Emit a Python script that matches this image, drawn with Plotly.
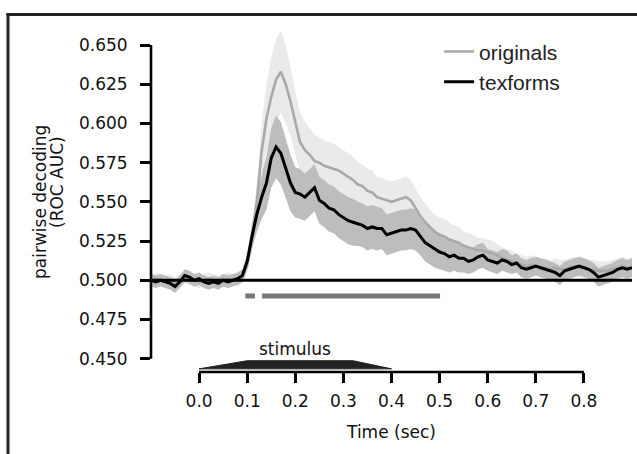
import plotly.graph_objects as go

# ---------------- data ----------------
time_s = [round(-0.10 + 0.01 * i, 2) for i in range(101)]

originals_mean = [
    0.500, 0.501, 0.500, 0.499, 0.500, 0.498, 0.500, 0.502, 0.501, 0.500,
    0.499, 0.500, 0.501, 0.500, 0.499, 0.500, 0.501, 0.500, 0.500, 0.502,
    0.510, 0.527, 0.550, 0.582, 0.603, 0.617, 0.628, 0.633, 0.625, 0.614,
    0.600, 0.588, 0.583, 0.580, 0.576, 0.575, 0.573, 0.572, 0.571, 0.570,
    0.568, 0.566, 0.564, 0.561, 0.560, 0.557, 0.556, 0.553, 0.552, 0.551,
    0.550, 0.551, 0.552, 0.553, 0.551, 0.546, 0.541, 0.537, 0.534, 0.531,
    0.529, 0.528, 0.526, 0.525, 0.524, 0.522, 0.521, 0.520, 0.519, 0.519,
    0.518, 0.517, 0.516, 0.514, 0.513, 0.512, 0.511, 0.510, 0.509, 0.510,
    0.509, 0.508, 0.508, 0.507, 0.508, 0.507, 0.507, 0.508, 0.509, 0.508,
    0.508, 0.507, 0.507, 0.506, 0.506, 0.506, 0.507, 0.508, 0.509, 0.508,
    0.508,
]
originals_sem = [
    0.004, 0.004, 0.004, 0.004, 0.004, 0.004, 0.004, 0.004, 0.004, 0.004,
    0.004, 0.004, 0.004, 0.004, 0.004, 0.004, 0.004, 0.004, 0.004, 0.004,
    0.005, 0.008, 0.012, 0.018, 0.022, 0.025, 0.026, 0.026, 0.025, 0.022,
    0.020, 0.019, 0.018, 0.017, 0.017, 0.016, 0.016, 0.016, 0.016, 0.015,
    0.015, 0.015, 0.015, 0.014, 0.014, 0.014, 0.014, 0.013, 0.013, 0.013,
    0.013, 0.013, 0.013, 0.013, 0.013, 0.012, 0.012, 0.012, 0.011, 0.011,
    0.011, 0.011, 0.011, 0.010, 0.010, 0.009, 0.009, 0.009, 0.008, 0.008,
    0.008, 0.008, 0.007, 0.007, 0.007, 0.007, 0.006, 0.006, 0.006, 0.006,
    0.006, 0.006, 0.006, 0.006, 0.006, 0.006, 0.006, 0.006, 0.006, 0.006,
    0.006, 0.006, 0.006, 0.006, 0.006, 0.006, 0.006, 0.006, 0.006, 0.006,
    0.006,
]
texforms_mean = [
    0.500, 0.499, 0.500, 0.499, 0.498, 0.496, 0.499, 0.503, 0.502, 0.500,
    0.501, 0.499, 0.498, 0.499, 0.498, 0.500, 0.499, 0.500, 0.501, 0.503,
    0.512, 0.528, 0.542, 0.553, 0.562, 0.578, 0.585, 0.581, 0.572, 0.562,
    0.556, 0.555, 0.553, 0.556, 0.559, 0.551, 0.549, 0.546, 0.545, 0.542,
    0.540, 0.538, 0.537, 0.536, 0.535, 0.533, 0.534, 0.533, 0.533, 0.529,
    0.530, 0.531, 0.532, 0.532, 0.533, 0.532, 0.528, 0.524, 0.522, 0.520,
    0.518, 0.517, 0.515, 0.516, 0.514, 0.514, 0.512, 0.513, 0.515, 0.516,
    0.513, 0.512, 0.511, 0.513, 0.512, 0.510, 0.511, 0.508, 0.507, 0.508,
    0.509, 0.508, 0.507, 0.506, 0.505, 0.503, 0.506, 0.507, 0.508, 0.509,
    0.508, 0.507, 0.505, 0.502, 0.503, 0.504, 0.505, 0.507, 0.508, 0.507,
    0.508,
]
texforms_sem = [
    0.004, 0.004, 0.004, 0.004, 0.004, 0.004, 0.004, 0.004, 0.004, 0.004,
    0.004, 0.004, 0.004, 0.004, 0.004, 0.004, 0.004, 0.004, 0.004, 0.004,
    0.005, 0.008, 0.011, 0.014, 0.017, 0.019, 0.020, 0.020, 0.019, 0.018,
    0.016, 0.016, 0.015, 0.015, 0.015, 0.015, 0.015, 0.015, 0.015, 0.015,
    0.015, 0.015, 0.015, 0.014, 0.014, 0.014, 0.014, 0.014, 0.013, 0.013,
    0.013, 0.013, 0.013, 0.013, 0.013, 0.013, 0.012, 0.012, 0.012, 0.012,
    0.011, 0.011, 0.010, 0.010, 0.009, 0.009, 0.008, 0.008, 0.008, 0.008,
    0.007, 0.007, 0.007, 0.007, 0.007, 0.006, 0.006, 0.006, 0.006, 0.006,
    0.006, 0.006, 0.006, 0.006, 0.006, 0.006, 0.006, 0.006, 0.006, 0.006,
    0.006, 0.006, 0.006, 0.006, 0.006, 0.006, 0.006, 0.006, 0.006, 0.006,
    0.006,
]

sig_start = [0.096, 0.131]
sig_end = [0.116, 0.501]
sig_level = 0.490

stim_times = [0.0, 0.1, 0.32, 0.4]   # onset, full-on, start of offset, offset

x_ticks = [0.0, 0.1, 0.2, 0.3, 0.4, 0.5, 0.6, 0.7, 0.8]
y_ticks = [0.450, 0.475, 0.500, 0.525, 0.550, 0.575, 0.600, 0.625, 0.650]
chance = 0.5

series_names = ["originals", "texforms"]

# ---------------- figure ----------------
TICK_FONT = dict(family="DejaVu Sans", size=17, color="#111")
fig = go.Figure()

bands = [
    (originals_mean, originals_sem, "#eaeaea"),
    (texforms_mean, texforms_sem, "#bdbdbd"),
]
for mean, sem, col in bands:
    upper = [m + s for m, s in zip(mean, sem)]
    lower = [m - s for m, s in zip(mean, sem)]
    fig.add_trace(go.Scatter(
        x=time_s + time_s[::-1], y=upper + lower[::-1], fill="toself",
        fillcolor=col, line=dict(width=0), mode="lines",
        showlegend=False, hoverinfo="skip"))

fig.add_trace(go.Scatter(x=time_s, y=originals_mean, mode="lines",
                         name=series_names[0],
                         line=dict(color="#a9a9a9", width=2.6)))
fig.add_trace(go.Scatter(x=time_s, y=texforms_mean, mode="lines",
                         name=series_names[1],
                         line=dict(color="#000000", width=3)))

# significance bars
for s, e in zip(sig_start, sig_end):
    fig.add_trace(go.Scatter(x=[s, e], y=[sig_level, sig_level], mode="lines",
                             line=dict(color="#777777", width=5),
                             showlegend=False, hoverinfo="skip"))

# stimulus trapezoid
stim_lo, stim_hi = 0.4435, 0.4487
fig.add_trace(go.Scatter(
    x=[stim_times[0], stim_times[1], stim_times[2], stim_times[3], stim_times[0]],
    y=[stim_lo, stim_hi, stim_hi, stim_lo, stim_lo],
    fill="toself", fillcolor="#222222", line=dict(color="#222222", width=1),
    mode="lines", showlegend=False, hoverinfo="skip"))
fig.add_annotation(x=(stim_times[0] + stim_times[3]) / 2, y=stim_hi, yshift=0,
                   text="stimulus", showarrow=False, yanchor="bottom",
                   font=TICK_FONT)

shapes = [
    # chance line
    dict(type="line", xref="paper", yref="y", x0=0, x1=1, y0=chance, y1=chance,
         line=dict(color="black", width=3)),
    # y spine
    dict(type="line", xref="paper", yref="y", x0=0, x1=0,
         y0=y_ticks[0], y1=y_ticks[-1], line=dict(color="black", width=2.6)),
    # x spine
    dict(type="line", xref="x", yref="paper", x0=x_ticks[0], x1=x_ticks[-1],
         y0=0, y1=0, line=dict(color="black", width=2.6)),
    # outer frame: top edge and left edge (right/bottom cropped off)
    dict(type="rect", xref="paper", yref="paper", xsizemode="pixel",
         ysizemode="pixel", xanchor=0, yanchor=1,
         x0=-144.5, x1=600, y0=14, y1=17,
         fillcolor="#222", line=dict(width=0)),
    dict(type="rect", xref="paper", yref="paper", xsizemode="pixel",
         ysizemode="pixel", xanchor=0, yanchor=1,
         x0=-144.5, x1=-141.5, y0=17, y1=-460,
         fillcolor="#222", line=dict(width=0)),
]

fig.update_layout(
    width=637, height=454,
    margin=dict(l=151, r=5, t=30, b=82),
    paper_bgcolor="white", plot_bgcolor="white",
    shapes=shapes,
    legend=dict(x=0.599, y=0.996, xanchor="left", yanchor="top",
                font=dict(family="Liberation Sans", size=21, color="#222"),
                bgcolor="rgba(0,0,0,0)", itemwidth=30, tracegroupgap=0),
    xaxis=dict(range=[-0.1, 0.9], tickvals=x_ticks,
               ticktext=[f"{v:.1f}" for v in x_ticks],
               ticks="outside", ticklen=10, tickwidth=2.5, tickcolor="black",
               showline=False, showgrid=False, zeroline=False,
               tickfont=TICK_FONT, ticklabelstandoff=4,
               title=dict(text="Time (sec)", font=TICK_FONT, standoff=15)),
    yaxis=dict(range=[0.4415, 0.6596], tickvals=y_ticks,
               ticktext=[f"{v:.3f}" for v in y_ticks],
               ticks="outside", ticklen=10, tickwidth=2.5, tickcolor="black",
               showline=False, showgrid=False, zeroline=False,
               tickfont=TICK_FONT, ticklabelstandoff=9),
)

# y-axis title (two lines)
fig.add_annotation(xref="paper", yref="paper", x=-0.2308, y=0.497,
                   text="pairwise decoding", textangle=-90, showarrow=False,
                   xanchor="center", yanchor="middle", font=TICK_FONT)
fig.add_annotation(xref="paper", yref="paper", x=-0.1954, y=0.5556,
                   text="(ROC AUC)", textangle=-90, showarrow=False,
                   xanchor="center", yanchor="middle", font=TICK_FONT)

fig.write_html("out.html", config={"displayModeBar": False},
               post_script="document.body.style.margin='0px';")
